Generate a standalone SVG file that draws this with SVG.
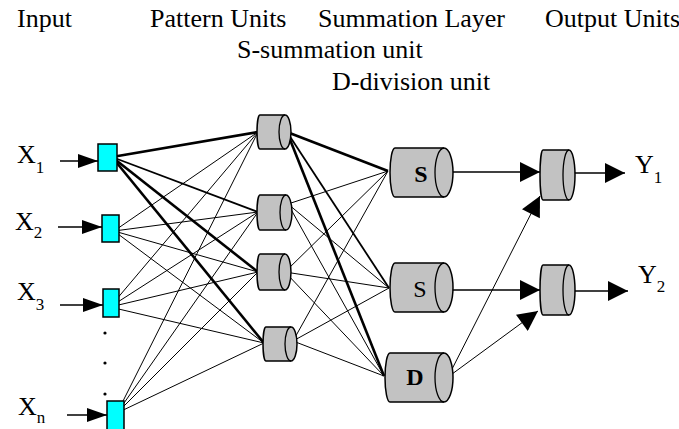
<svg xmlns="http://www.w3.org/2000/svg" width="679" height="429" viewBox="0 0 679 429">
<style>
text{font-family:"Liberation Serif","Times New Roman",serif;fill:#000}
.hdr{font-size:26px}
.lbl{font-size:26px}
.sub{font-size:17px}
.box{fill:#00ffff;stroke:#000;stroke-width:1.5}
.cyl{fill:#c2c2c2;stroke:#000;stroke-width:1.5}
.arc{fill:none;stroke:#000;stroke-width:1.3}
.e{stroke:#000;stroke-width:1;fill:none}
.tk{stroke:#000;stroke-width:2.6;fill:none}
.md{stroke:#000;stroke-width:1.8;fill:none}
.ar{stroke:#000;stroke-width:1.3;fill:none}
.sym{font-size:24px;font-weight:bold}
.symn{font-size:24px}
</style>
<defs>
<marker id="hin" viewBox="0 0 20 14" refX="20" refY="7" markerWidth="20" markerHeight="14" markerUnits="userSpaceOnUse" orient="auto"><path d="M0,0 L20,7 L0,14 Z" fill="#000"/></marker>
<marker id="hout" viewBox="0 0 20 20" refX="20" refY="10" markerWidth="21" markerHeight="20" markerUnits="userSpaceOnUse" orient="auto"><path d="M0,0 L20,10 L0,20 Z" fill="#000"/></marker>
</defs>
<rect width="679" height="429" fill="#fff"/>
<g id="headers">
<text class="hdr" x="17" y="27">Input</text>
<text class="hdr" x="150" y="27">Pattern Units</text>
<text class="hdr" x="318" y="27" textLength="187" lengthAdjust="spacing">Summation Layer</text>
<text class="hdr" x="545" y="27">Output Units</text>
<text class="hdr" x="237" y="58">S-summation unit</text>
<text class="hdr" x="332" y="90">D-division unit</text>
</g>
<g id="connectors">
<line class="tk" x1="112" y1="157" x2="258" y2="132"/>
<line class="md" x1="112" y1="157" x2="258" y2="212"/>
<line class="tk" x1="112" y1="157" x2="258" y2="272"/>
<line class="tk" x1="112" y1="157" x2="264" y2="343"/>
<line class="e" x1="114" y1="231" x2="258" y2="132"/>
<line class="e" x1="114" y1="231" x2="258" y2="212"/>
<line class="e" x1="114" y1="231" x2="258" y2="272"/>
<line class="e" x1="114" y1="231" x2="264" y2="343"/>
<line class="e" x1="110" y1="307" x2="258" y2="132"/>
<line class="e" x1="110" y1="307" x2="258" y2="212"/>
<line class="e" x1="110" y1="307" x2="258" y2="272"/>
<line class="e" x1="110" y1="307" x2="264" y2="343"/>
<line class="e" x1="117" y1="413" x2="258" y2="132"/>
<line class="e" x1="117" y1="413" x2="258" y2="212"/>
<line class="e" x1="117" y1="413" x2="258" y2="272"/>
<line class="e" x1="117" y1="413" x2="264" y2="343"/>
<line class="tk" x1="287" y1="132" x2="388" y2="171"/>
<line class="md" x1="287" y1="132" x2="389" y2="288"/>
<line class="tk" x1="287" y1="132" x2="384" y2="376"/>
<line class="e" x1="288" y1="204" x2="388" y2="171"/>
<line class="e" x1="288" y1="204" x2="389" y2="288"/>
<line class="e" x1="288" y1="204" x2="384" y2="376"/>
<line class="e" x1="285" y1="272" x2="388" y2="171"/>
<line class="e" x1="285" y1="272" x2="389" y2="288"/>
<line class="e" x1="285" y1="272" x2="384" y2="376"/>
<line class="e" x1="293" y1="341" x2="388" y2="171"/>
<line class="e" x1="293" y1="341" x2="389" y2="288"/>
<line class="e" x1="293" y1="341" x2="384" y2="376"/>
<line class="ar" x1="60" y1="161" x2="98" y2="161" marker-end="url(#hin)"/>
<line class="ar" x1="58" y1="227" x2="102" y2="227" marker-end="url(#hin)"/>
<line class="ar" x1="60" y1="305" x2="103" y2="305" marker-end="url(#hin)"/>
<line class="ar" x1="67" y1="415" x2="107" y2="415" marker-end="url(#hin)"/>
<line class="ar" x1="447" y1="172" x2="540" y2="172" marker-end="url(#hout)"/>
<line class="ar" x1="447" y1="290" x2="540" y2="290" marker-end="url(#hout)"/>
<line class="e" x1="448" y1="377" x2="540" y2="196" marker-end="url(#hout)"/>
<line class="e" x1="448" y1="377" x2="538" y2="311" marker-end="url(#hout)"/>
<line class="ar" x1="568" y1="173" x2="625" y2="173" marker-end="url(#hout)"/>
<line class="ar" x1="568" y1="291" x2="628" y2="291" marker-end="url(#hout)"/>
</g>
<g id="x1"><rect class="box" x="98" y="144" width="19" height="27"/><text class="lbl" x="17" y="163">X<tspan class="sub" dy="10">1</tspan></text></g>
<g id="x2"><rect class="box" x="102" y="215" width="17" height="27"/><text class="lbl" x="15" y="230">X<tspan class="sub" dy="8">2</tspan></text></g>
<g id="x3"><rect class="box" x="103" y="289" width="16" height="28"/><text class="lbl" x="17" y="300">X<tspan class="sub" dy="10">3</tspan></text></g>
<g id="xn"><rect class="box" x="107" y="401" width="17" height="30"/><text class="lbl" x="18" y="415">X<tspan class="sub" dy="8">n</tspan></text></g>
<g id="dots"><circle cx="105" cy="333" r="1.6"/><circle cx="105" cy="363" r="1.6"/><circle cx="105" cy="394" r="1.6"/></g>
<g id="p1"><path class="cyl" d="M260 115 H285 A6 17 0 0 1 285 149 H260 A3 17 0 0 1 260 115 Z"/><path class="arc" d="M285 115 A6 17 0 0 0 285 149"/></g>
<g id="p2"><path class="cyl" d="M260 195 H286 A6 17.5 0 0 1 286 230 H260 A3 17.5 0 0 1 260 195 Z"/><path class="arc" d="M286 195 A6 17.5 0 0 0 286 230"/></g>
<g id="p3"><path class="cyl" d="M260 254 H285 A6 18 0 0 1 285 290 H260 A3 18 0 0 1 260 254 Z"/><path class="arc" d="M285 254 A6 18 0 0 0 285 290"/></g>
<g id="p4"><path class="cyl" d="M266 327 H291 A6 17 0 0 1 291 361 H266 A3 17 0 0 1 266 327 Z"/><path class="arc" d="M291 327 A6 17 0 0 0 291 361"/></g>
<g id="s1"><path class="cyl" d="M395 148 H444 A9 24.5 0 0 1 444 197 H395 A5 24.5 0 0 1 395 148 Z"/><path class="arc" d="M444 148 A9 24.5 0 0 0 444 197"/><text class="sym" x="421" y="182" text-anchor="middle">S</text></g>
<g id="s2"><path class="cyl" d="M395 263 H444 A9 24.5 0 0 1 444 312 H395 A5 24.5 0 0 1 395 263 Z"/><path class="arc" d="M444 263 A9 24.5 0 0 0 444 312"/><text class="symn" x="420" y="297" text-anchor="middle">S</text></g>
<g id="d"><path class="cyl" d="M390 353 H444 A9 24.5 0 0 1 444 402 H390 A5 24.5 0 0 1 390 353 Z"/><path class="arc" d="M444 353 A9 24.5 0 0 0 444 402"/><text class="sym" x="415" y="385" text-anchor="middle">D</text></g>
<g id="o1"><path class="cyl" d="M543 150 H569 A6 25 0 0 1 569 200 H543 A3 25 0 0 1 543 150 Z"/><path class="arc" d="M569 150 A6 25 0 0 0 569 200"/><text class="lbl" x="635" y="173" font-size="23">Y<tspan class="sub" dy="10">1</tspan></text></g>
<g id="o2"><path class="cyl" d="M543 265 H569 A6 25 0 0 1 569 315 H543 A3 25 0 0 1 543 265 Z"/><path class="arc" d="M569 265 A6 25 0 0 0 569 315"/><text class="lbl" x="638" y="283" font-size="23">Y<tspan class="sub" dy="9">2</tspan></text></g>
</svg>
